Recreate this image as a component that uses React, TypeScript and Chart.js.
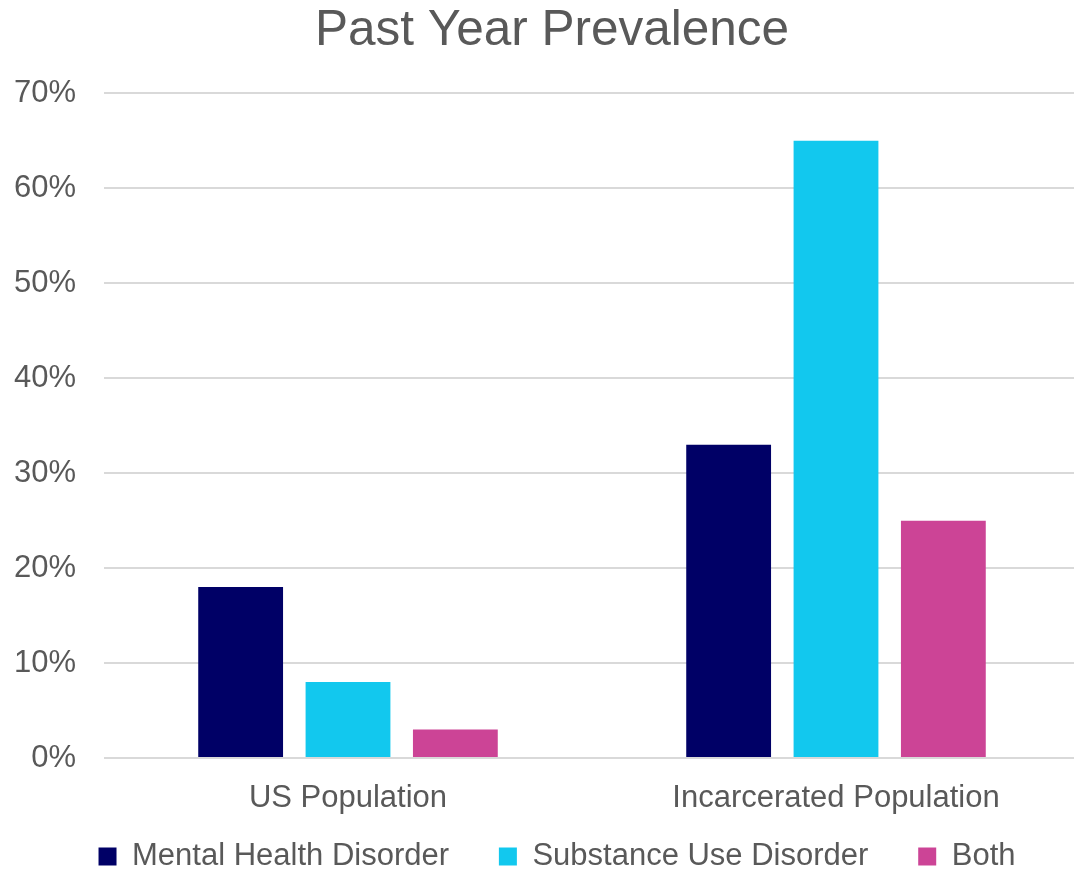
import React, { useEffect, useRef } from "react";
import { Chart, registerables } from "chart.js";

Chart.register(...registerables);

const categories = ["US Population", "Incarcerated Population"];
const seriesNames = ["Mental Health Disorder", "Substance Use Disorder", "Both"];
const mentalHealth = [18, 33];
const substanceUse = [8, 65];
const both = [3, 25];
const seriesColors = ["#000066", "#12C8EE", "#CC4496"];
const yTicks = [0, 10, 20, 30, 40, 50, 60, 70];

const FONT = "'Liberation Sans', Arial, sans-serif";
const TEXT = "#595959";

const shiftBoxes = {
  id: "shiftBoxes",
  afterLayout(chart: any) {
    if (chart.titleBlock) {
      chart.titleBlock.left += 5;
      chart.titleBlock.right += 5;
    }
    if (chart.legend) {
      chart.legend.left += 10;
      chart.legend.right += 10;
    }
  },
};

export default function App() {
  const ref = useRef<HTMLCanvasElement | null>(null);

  useEffect(() => {
    if (!ref.current) return;
    const values = [mentalHealth, substanceUse, both];
    const chart = new Chart(ref.current, {
      type: "bar",
      data: {
        labels: categories,
        datasets: seriesNames.map((name, i) => ({
          label: name,
          data: values[i],
          backgroundColor: seriesColors[i],
          borderWidth: 0,
          barPercentage: 0.79,
          categoryPercentage: 0.66,
        })),
      },
      plugins: [shiftBoxes],
      options: {
        responsive: false,
        animation: false,
        devicePixelRatio: 1,
        layout: { padding: { left: 14, right: 0, top: 0, bottom: 0 } },
        plugins: {
          title: {
            display: true,
            text: "Past Year Prevalence",
            color: TEXT,
            font: { family: FONT, size: 49.5, weight: "normal" },
            padding: { top: 2, bottom: 32 },
          },
          legend: {
            position: "bottom",
            maxHeight: 52,
            labels: {
              color: TEXT,
              font: { family: FONT, size: 31 },
              boxWidth: 18,
              boxHeight: 18,
              padding: 24,
              generateLabels: (c: any) => {
                const items = Chart.defaults.plugins.legend.labels.generateLabels(c);
                return items.map((it: any, i: number) => ({
                  ...it,
                  text: i < items.length - 1 ? it.text + "   " : it.text,
                  lineWidth: 0,
                }));
              },
            },
          },
          tooltip: { enabled: false },
        },
        scales: {
          x: {
            grid: { display: false, drawTicks: false },
            border: { display: false },
            ticks: {
              color: TEXT,
              font: { family: FONT, size: 31 },
              padding: 22,
            },
            afterFit: (axis: any) => {
              axis.height = 59;
            },
          },
          y: {
            min: yTicks[0],
            max: yTicks[yTicks.length - 1],
            afterBuildTicks: (axis: any) => {
              axis.ticks = yTicks.map((v) => ({ value: v }));
            },
            afterFit: (axis: any) => {
              axis.width = 90;
            },
            grid: { color: "#D9D9D9", lineWidth: 2, drawTicks: false },
            border: { display: false },
            ticks: {
              color: TEXT,
              font: { family: FONT, size: 31 },
              padding: 28,
              callback: (v: any) => v + "%",
            },
          },
        },
      },
    });
    return () => chart.destroy();
  }, []);

  return (
    <div
      style={{
        position: "absolute",
        left: 0,
        top: 0,
        width: 1074,
        height: 869,
        overflow: "hidden",
        background: "#fff",
      }}
    >
      <canvas ref={ref} width={1080} height={869} style={{ display: "block" }} />
    </div>
  );
}
